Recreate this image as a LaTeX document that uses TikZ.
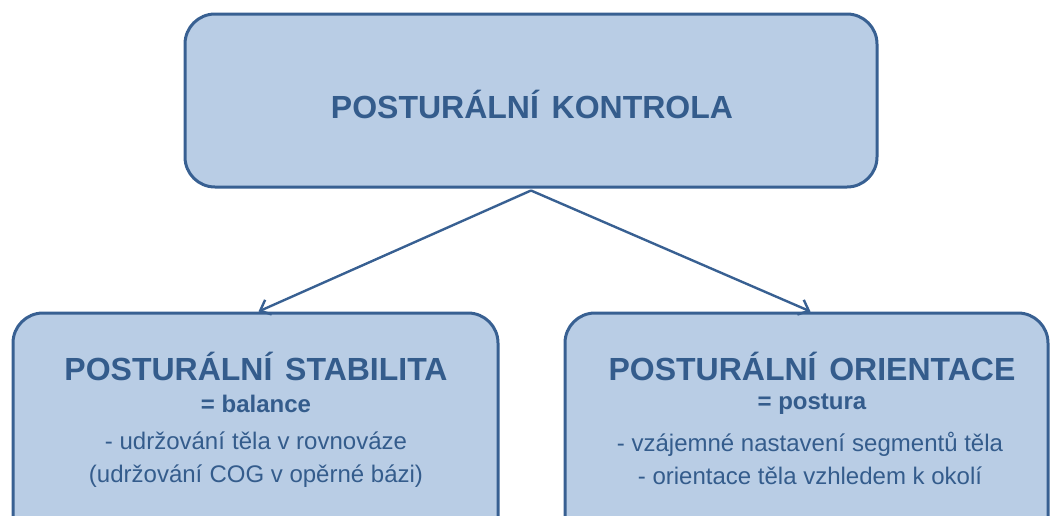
\documentclass[tikz,border=0pt]{standalone}
\usepackage{fontspec}
\setmainfont{Liberation Sans}
\usetikzlibrary{arrows.meta}
\definecolor{boxfill}{RGB}{185,205,229}
\definecolor{boxline}{RGB}{56,96,146}
\definecolor{txt}{RGB}{52,92,140}
\tikzset{
  box/.style={draw=boxline, fill=boxfill, line width=3pt, rounded corners=30pt, rectangle, inner sep=0pt},
  title/.style={text=txt, font=\bfseries\fontsize{32}{38}\selectfont, inner sep=0pt},
  subt/.style={text=txt, font=\bfseries\fontsize{24}{28}\selectfont, inner sep=0pt},
  body/.style={text=txt, font=\fontsize{24}{33}\selectfont, align=center, inner sep=0pt},
  conn/.style={draw=boxline, line width=2.4pt, -{Straight Barb[length=9pt,width=16pt,line width=2.4pt]}}
}
\begin{document}
\begin{tikzpicture}[x=1pt,y=-1pt]
\useasboundingbox (0,0) rectangle (1050,515);
\clip (0,0) rectangle (1050,515);
\node[box, minimum width=692pt, minimum height=173pt] (top) at (531,100.5) {};
\node[box, minimum width=485pt, minimum height=250pt] (left) at (255.5,438) {};
\node[box, minimum width=483pt, minimum height=250pt] (right) at (806.5,438) {};
\node[title] (t0) at (532,104) {POSTURÁLNÍ\hspace{0.4em}KONTROLA};
\node[title] (t1) at (256,366) {POSTURÁLNÍ\hspace{0.4em}STABILITA};
\node[subt] (s1) at (256,404) {= balance};
\node[body] (b1) at (256,460) {- udržování\hspace{0.3em}těla v rovnováze\\(udržování\hspace{0.3em}COG v opěrné bázi)};
\node[title] (t2) at (812,366) {POSTURÁLNÍ\hspace{0.4em}ORIENTACE};
\node[subt] (s2) at (812,404) {= postura};
\node[body] (b2) at (810,458) {- vzájemné nastavení\hspace{0.3em}segmentů těla\\- orientace těla vzhledem k okolí};
\draw[conn] ([yshift=-2pt]top.south) -- ([xshift=3pt]left.north);
\draw[conn] ([yshift=-2pt]top.south) -- ([xshift=4pt]right.north);
\end{tikzpicture}
\end{document}
